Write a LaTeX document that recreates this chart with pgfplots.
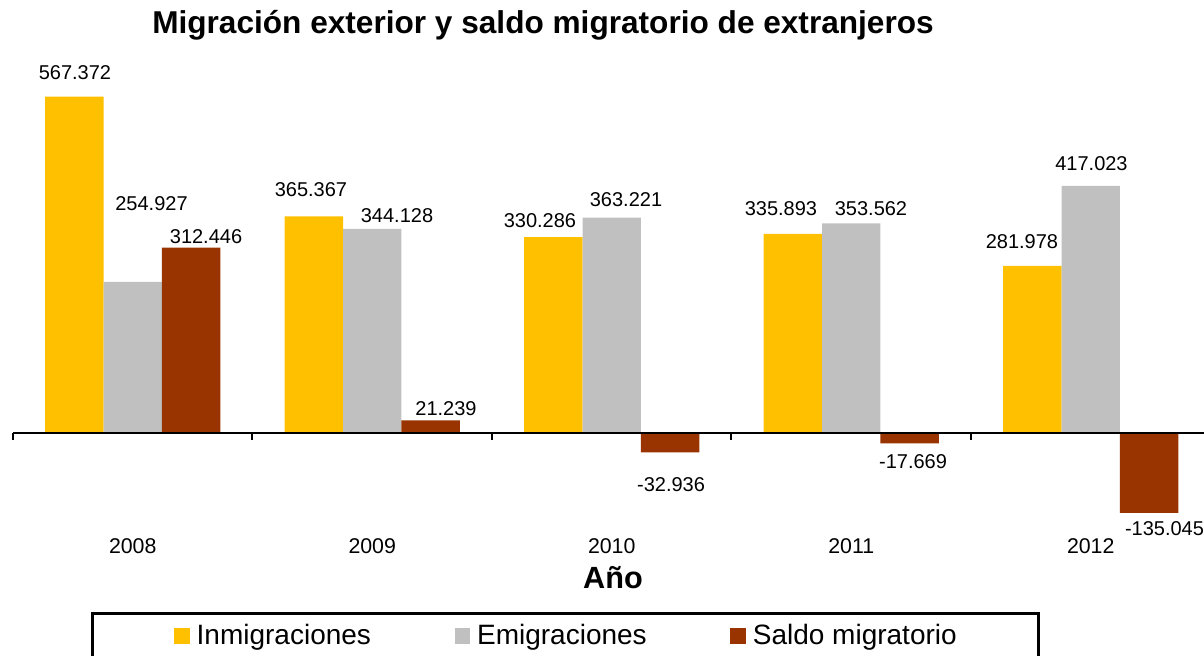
\documentclass[border=0pt]{standalone}
\usepackage{fontspec}
\setmainfont{Liberation Sans}
\usepackage{pgfplots}
\usepackage{pgfplotstable}
\pgfplotsset{compat=1.18}
\definecolor{cI}{HTML}{FFC000}
\definecolor{cE}{HTML}{C0C0C0}
\definecolor{cS}{HTML}{993300}

% dx, dy: label offsets in pixels of the reference (1px = 0.75pt)
\pgfplotstableread{
x y lab dx dy
0 567372 567.372 0.65 23.7
1 365367 365.367 -2.85 26.4
2 330286 330.286 -13.35 16.7
3 335893 335.893 -11.85 25.0
4 281978 281.978 -10.35 24.4
}\inmig
\pgfplotstableread{
x y lab dx dy
0 254927 254.927 18.75 77.9
1 344128 344.128 24.75 13.0
2 363221 363.221 14.25 17.7
3 353562 353.562 19.75 14.4
4 417023 417.023 0.75 21.8
}\emig
\pgfplotstableread{
x y lab dx dy
0 312446 312.446 14.85 10.8
1 21239 21.239 15.35 11.7
2 -32936 -32.936 0.85 -32.5
3 -17669 -17.669 3.35 -18.2
4 -135045 -135.045 15.35 -16
}\saldo

\pgfplotsset{
  sq legend/.style={legend image code/.code={\fill[##1] (0pt,-5.9pt) rectangle (11.8pt,5.9pt);}},
  lbl/.style={
    forget plot,
    nodes near coords,
    point meta=explicit symbolic,
    visualization depends on={\thisrow{dx} \as \dx},
    visualization depends on={\thisrow{dy} \as \dy},
    every node near coord/.append style={anchor=center, inner sep=0pt,
       font=\fontsize{15}{18}\selectfont, text=black,
       xshift=\dx*0.75pt, yshift=\dy*0.75pt},
  },
}

\begin{document}
\begin{tikzpicture}
\path[use as bounding box] (0,0) rectangle (903pt,492pt);
\begin{axis}[
  at={(9.75pt,78.375pt)}, anchor=south west,
  scale only axis, width=893.25pt, height=355.65pt,
  xmin=-0.5, xmax=4.473, ymin=-200000, ymax=600000,
  axis x line=middle, axis y line=none,
  x axis line style={-, line width=1.5pt, black},
  axis on top,
  clip=false,
  hide obscured x ticks=false,
  ytick=\empty,
  xtick={0,1,2,3,4},
  xticklabels={2008,2009,2010,2011,2012},
  major x tick style={draw=none},
  minor xtick={-0.5,0.5,1.5,2.5,3.5},
  minor tick length=5.25pt,
  tick align=outside,
  minor x tick style={line width=1.5pt, black},
  xticklabel style={font=\fontsize{16}{19}\selectfont, anchor=base, yshift=-86.5pt},
  title={Migración exterior y saldo migratorio de extranjeros},
  title style={font=\bfseries\fontsize{23.7}{28}\selectfont, at={(rel axis cs:0.445,1.0753)}, anchor=base},
  xlabel={Año},
  xlabel style={font=\bfseries\fontsize{23}{27}\selectfont, at={(rel axis cs:0.5038,-0.0776)}, anchor=base},
  ybar, bar width=0.244,
  legend columns=3,
  legend style={at={(0.0655,-0.1276)}, anchor=north west,
     draw=black, line width=1.9pt,
     font=\fontsize{21}{25}\selectfont,
     inner xsep=61.5pt, inner ysep=8.5pt,
     nodes={inner xsep=0pt, inner ysep=0pt},
     /tikz/every odd column/.append style={column sep=5pt},
     /tikz/every even column/.append style={column sep=62.8pt}},
]
\addplot[fill=cI, draw=none, lbl, bar shift=-0.244] table[x=x, y=y, meta=lab]{\inmig};
\addplot[fill=cE, draw=none, lbl, bar shift=0] table[x=x, y=y, meta=lab]{\emig};
\addplot[fill=cS, draw=none, lbl, bar shift=0.244] table[x=x, y=y, meta=lab]{\saldo};
\addlegendimage{sq legend, fill=cI, draw=none}
\addlegendentry{Inmigraciones}
\addlegendimage{sq legend, fill=cE, draw=none}
\addlegendentry{Emigraciones}
\addlegendimage{sq legend, fill=cS, draw=none}
\addlegendentry{Saldo migratorio}
\end{axis}
\end{tikzpicture}
\end{document}
